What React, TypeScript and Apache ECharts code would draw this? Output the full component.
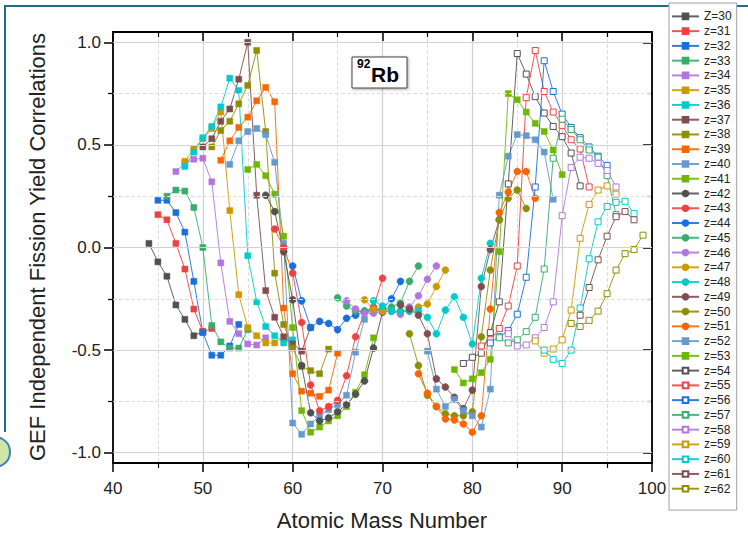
import React, { useEffect, useRef } from 'react';
import * as echarts from 'echarts';

const FONT = '"Liberation Sans", Arial, sans-serif';

// Origin "colorful" palette
const COLORS = ['#515151', '#F14040', '#1A6FDF', '#37AD6B', '#B177DE', '#CC9900', '#00CBCC', '#7D4E4E', '#8E8E00', '#FB6501', '#6699CC', '#6FB802'];

const xTicks = [40, 50, 60, 70, 80, 90, 100];
const yTicks = [-1.0, -0.5, 0.0, 0.5, 1.0];
const yMinorTicks = [-0.75, -0.25, 0.25, 0.75];

// [A, correlation]
const z30 = [[44, 0.02], [45, -0.07], [46, -0.14], [47, -0.28], [48, -0.35], [49, -0.43], [50, -0.41]];
const z31 = [[45, 0.16], [46, 0.135], [47, 0.02], [48, -0.105], [49, -0.3], [50, -0.41], [51, -0.395]];
const z32 = [[45, 0.23], [46, 0.23], [47, 0.17], [48, 0.075], [49, -0.165], [50, -0.415], [51, -0.525], [52, -0.525], [53, -0.48], [54, -0.375]];
const z33 = [[46, 0.25], [47, 0.28], [48, 0.275], [49, 0.195], [50, 0.0], [51, -0.38], [52, -0.46], [53, -0.49], [54, -0.49], [55, -0.4]];
const z34 = [[47, 0.37], [48, 0.41], [49, 0.43], [50, 0.435], [51, 0.32], [52, -0.075], [53, -0.36], [54, -0.42], [55, -0.47], [56, -0.475], [57, -0.44]];
const z35 = [[48, 0.42], [49, 0.48], [50, 0.53], [51, 0.58], [52, 0.66], [53, 0.18], [54, -0.23], [55, -0.39], [56, -0.43], [57, -0.465], [58, -0.465]];
const z36 = [[48, 0.395], [49, 0.465], [50, 0.535], [51, 0.59], [52, 0.685], [53, 0.825], [54, 0.765], [55, -0.04], [56, -0.265], [57, -0.385], [58, -0.43], [59, -0.465], [60, -0.45]];
const z37 = [[50, 0.49], [51, 0.53], [52, 0.615], [53, 0.675], [54, 0.82], [55, 1.0], [56, 0.255], [57, -0.21], [58, -0.34], [59, -0.435], [60, -0.47], [61, -0.505], [62, -0.39]];
const z38 = [[51, 0.49], [52, 0.57], [53, 0.615], [54, 0.7], [55, 0.79], [56, 0.96], [57, 0.565], [58, -0.125], [59, -0.375], [60, -0.49], [61, -0.58], [62, -0.6], [63, -0.615], [64, -0.495]];
const z39 = [[52, 0.425], [53, 0.52], [54, 0.585], [55, 0.635], [56, 0.715], [57, 0.78], [58, 0.71], [59, -0.295], [60, -0.615], [61, -0.7], [62, -0.71], [63, -0.725], [64, -0.695], [65, -0.515]];
const z40 = [[53, 0.405], [54, 0.52], [55, 0.565], [56, 0.58], [57, 0.55], [58, 0.415], [59, 0.02], [60, -0.855], [61, -0.91], [62, -0.86], [63, -0.82], [64, -0.79], [65, -0.765], [66, -0.72], [67, -0.51], [68, -0.35]];
const z41 = [[55, 0.38], [56, 0.405], [57, 0.35], [58, 0.26], [59, 0.055], [60, -0.39], [61, -0.795], [62, -0.9], [63, -0.875], [64, -0.845], [65, -0.82], [66, -0.775], [67, -0.705], [68, -0.62], [69, -0.44]];
const z42 = [[57, 0.255], [58, 0.175], [59, -0.02], [60, -0.255], [61, -0.575], [62, -0.805], [63, -0.845], [64, -0.83], [65, -0.8], [66, -0.765], [67, -0.715], [68, -0.65], [69, -0.49], [70, -0.315]];
const z43 = [[58, 0.09], [59, 0.0], [60, -0.125], [61, -0.365], [62, -0.67], [63, -0.795], [64, -0.775], [65, -0.745], [66, -0.625], [67, -0.435], [68, -0.315], [69, -0.29], [70, -0.15]];
const z44 = [[60, -0.09], [61, -0.26], [62, -0.39], [63, -0.36], [64, -0.37], [65, -0.4], [66, -0.345], [67, -0.33], [68, -0.31], [69, -0.3], [70, -0.3], [71, -0.25], [72, -0.165]];
const z45 = [[65, -0.245], [66, -0.285], [67, -0.31], [68, -0.31], [69, -0.31], [70, -0.305], [71, -0.29], [72, -0.27], [73, -0.165], [74, -0.09]];
const z46 = [[66, -0.26], [67, -0.3], [68, -0.32], [69, -0.32], [70, -0.31], [71, -0.31], [72, -0.325], [73, -0.29], [74, -0.235], [75, -0.155], [76, -0.09]];
const z47 = [[68, -0.255], [69, -0.3], [70, -0.31], [71, -0.31], [72, -0.31], [73, -0.31], [74, -0.29], [75, -0.275], [76, -0.19], [77, -0.11]];
const z48 = [[69, -0.26], [70, -0.285], [71, -0.31], [72, -0.31], [73, -0.31], [74, -0.31], [75, -0.34], [76, -0.42], [77, -0.305], [78, -0.24], [79, -0.34], [80, -0.47], [81, -0.15], [82, 0.02]];
const z49 = [[72, -0.28], [73, -0.3], [74, -0.33], [75, -0.42], [76, -0.64], [77, -0.68], [78, -0.73], [79, -0.785], [80, -0.695], [81, -0.19], [82, -0.01], [83, 0.135]];
const z50 = [[73, -0.42], [74, -0.575], [75, -0.72], [76, -0.775], [77, -0.81], [78, -0.82], [79, -0.82], [80, -0.8], [81, -0.435], [82, -0.11], [83, 0.135], [84, 0.24], [85, 0.28], [86, 0.19]];
const z51 = [[74, -0.615], [75, -0.71], [76, -0.775], [77, -0.835], [78, -0.84], [79, -0.86], [80, -0.9], [81, -0.82], [82, -0.3], [83, 0.17], [84, 0.27], [85, 0.37], [86, 0.37], [87, 0.24]];
const z52 = [[75, -0.505], [76, -0.69], [77, -0.775], [78, -0.74], [79, -0.795], [80, -0.82], [81, -0.875], [82, -0.69], [83, 0.255], [84, 0.445], [85, 0.55], [86, 0.545], [87, 0.525], [88, 0.465], [89, 0.235]];
const z53 = [[78, -0.595], [79, -0.66], [80, -0.64], [81, -0.61], [82, -0.545], [83, -0.02], [84, 0.75], [85, 0.72], [86, 0.66], [87, 0.605], [88, 0.565], [89, 0.475], [90, 0.355]];
const z54 = [[79, -0.565], [80, -0.535], [81, -0.515], [82, -0.415], [83, -0.265], [84, 0.31], [85, 0.945], [86, 0.845], [87, 0.735], [88, 0.655], [89, 0.59], [90, 0.54], [91, 0.46], [92, 0.3]];
const z55 = [[81, -0.48], [82, -0.45], [83, -0.395], [84, -0.285], [85, -0.09], [86, 0.73], [87, 0.96], [88, 0.76], [89, 0.66], [90, 0.595], [91, 0.525], [92, 0.48], [93, 0.295]];
const z56 = [[82, -0.465], [83, -0.435], [84, -0.405], [85, -0.325], [86, -0.145], [87, 0.295], [88, 0.91], [89, 0.76], [90, 0.65], [91, 0.585], [92, 0.535], [93, 0.49], [94, 0.445], [95, 0.4]];
const z57 = [[83, -0.44], [84, -0.465], [85, -0.45], [86, -0.41], [87, -0.34], [88, -0.105], [89, 0.435], [90, 0.625], [91, 0.575], [92, 0.525], [93, 0.475], [94, 0.44], [95, 0.35], [96, 0.16]];
const z58 = [[84, -0.42], [85, -0.48], [86, -0.475], [87, -0.44], [88, -0.39], [89, -0.265], [90, 0.155], [91, 0.39], [92, 0.44], [93, 0.435], [94, 0.41], [95, 0.375], [96, 0.295]];
const z59 = [[87, -0.455], [88, -0.515], [89, -0.495], [90, -0.45], [91, -0.305], [92, 0.045], [93, 0.21], [94, 0.28], [95, 0.3], [96, 0.26]];
const z60 = [[88, -0.5], [89, -0.545], [90, -0.565], [91, -0.5], [92, -0.295], [93, -0.055], [94, 0.125], [95, 0.2], [96, 0.22], [97, 0.225], [98, 0.165]];
const z61 = [[92, -0.33], [93, -0.195], [94, -0.06], [95, 0.055], [96, 0.15], [97, 0.175], [98, 0.135]];
const z62 = [[91, -0.37], [92, -0.385], [93, -0.355], [94, -0.31], [95, -0.225], [96, -0.11], [97, -0.03], [98, -0.01], [99, 0.06]];

const seriesData = [z30, z31, z32, z33, z34, z35, z36, z37, z38, z39, z40, z41, z42, z43, z44, z45, z46, z47, z48, z49, z50, z51, z52, z53, z54, z55, z56, z57, z58, z59, z60, z61, z62];
const seriesNames = seriesData.map((_, i) => (i === 0 ? 'Z=30' : 'z=' + (30 + i)));

function styleFor(z: number) {
  if (z <= 41) return { color: COLORS[z - 30], symbol: 'rect', open: false };
  if (z <= 51) return { color: COLORS[z - 42], symbol: 'circle', open: false };
  if (z <= 53) return { color: COLORS[z - 42], symbol: 'rect', open: false };
  return { color: COLORS[z - 54], symbol: 'rect', open: true };
}

export default function App() {
  const ref = useRef<HTMLDivElement>(null);
  useEffect(() => {
    const chart = echarts.init(ref.current!, null, { renderer: 'svg' });

    const dataSeries = seriesData.map((d, i) => {
      const z = 30 + i;
      const s = styleFor(z);
      return {
        name: seriesNames[i],
        type: 'line',
        data: d,
        z: 3,
        symbol: s.symbol,
        symbolSize: s.symbol === 'circle' ? 7 : 6,
        showAllSymbol: true,
        itemStyle: s.open
          ? { color: '#ffffff', borderColor: s.color, borderWidth: 1 }
          : { color: s.color, borderColor: s.color, borderWidth: 0.5 },
        lineStyle: { color: s.color, width: 1, opacity: 0.9 },
        emphasis: { disabled: true },
      };
    });

    const gridSeries = {
      name: 'grid',
      type: 'line',
      data: [],
      z: 1,
      silent: true,
      markLine: {
        silent: true,
        symbol: ['none', 'none'],
        label: { show: false },
        animation: false,
        data: [
          ...yTicks.map((v) => ({ yAxis: v, lineStyle: { color: '#d2d2d2', width: 1.2, type: 'solid' } })),
          ...yMinorTicks.map((v) => ({ yAxis: v, lineStyle: { color: '#dedede', width: 1, type: 'dashed' } })),
        ],
      },
    };

    const option: any = {
      animation: false,
      backgroundColor: '#ffffff',
      textStyle: { fontFamily: FONT },
      grid: { left: 113, right: 96, top: 32, bottom: 77, containLabel: false, outerBoundsMode: 'none' },
      legend: {
        orient: 'vertical',
        left: 669,
        top: 3,
        itemWidth: 27,
        itemHeight: 7,
        itemGap: 0,
        padding: [6, 5, 14, 2],
        backgroundColor: '#ffffff',
        borderColor: '#a0a0a0',
        borderWidth: 1,
        selectedMode: false,
        textStyle: { fontSize: 12, lineHeight: 14.76, color: '#222', fontFamily: FONT },
        data: seriesNames,
      },
      xAxis: [
        {
          type: 'value',
          min: xTicks[0],
          max: xTicks[xTicks.length - 1],
          interval: 10,
          position: 'bottom',
          axisLine: { show: true, onZero: false, lineStyle: { color: '#000', width: 1.8 } },
          axisTick: { show: true, inside: false, length: 9, lineStyle: { color: '#000', width: 1.5 } },
          minorTick: { show: true, splitNumber: 2, length: 5, lineStyle: { color: '#000', width: 1.2 } },
          axisLabel: { fontSize: 17, color: '#222', margin: 17, fontFamily: FONT },
          splitLine: { show: true, lineStyle: { color: '#cfcfcf', width: 1.2 } },
          minorSplitLine: { show: true, lineStyle: { color: '#dedede', width: 1, type: 'dashed' } },
        },
        {
          type: 'value',
          min: xTicks[0],
          max: xTicks[xTicks.length - 1],
          interval: 10,
          position: 'top',
          axisLine: { show: true, onZero: false, lineStyle: { color: '#000', width: 1.8 } },
          axisTick: { show: true, inside: true, length: 9, lineStyle: { color: '#000', width: 1.5 } },
          minorTick: { show: true, splitNumber: 2, length: 5, lineStyle: { color: '#000', width: 1.2 } },
          axisLabel: { show: false },
          splitLine: { show: false },
        },
      ],
      yAxis: [
        {
          type: 'value',
          min: -1.05,
          max: 1.05,
          splitNumber: 4,
          position: 'left',
          axisLine: { show: true, onZero: false, lineStyle: { color: '#000', width: 1.8 } },
          axisTick: { show: true, inside: false, length: 9, customValues: yTicks, lineStyle: { color: '#000', width: 1.5 } },
          axisLabel: {
            fontSize: 17, color: '#222', margin: 12, fontFamily: FONT,
            customValues: yTicks,
            showMinLabel: true, showMaxLabel: true,
            formatter: (v: number) => v.toFixed(1),
          },
          splitLine: { show: false },
        },
        {
          type: 'value',
          min: -1.05,
          max: 1.05,
          position: 'left',
          axisLine: { show: false },
          axisTick: { show: true, inside: false, length: 5, customValues: yMinorTicks, lineStyle: { color: '#000', width: 1.2 } },
          axisLabel: { show: false },
          splitLine: { show: false },
        },
        {
          type: 'value',
          min: -1.05,
          max: 1.05,
          position: 'right',
          axisLine: { show: true, onZero: false, lineStyle: { color: '#000', width: 1.8 } },
          axisTick: { show: true, inside: true, length: 9, customValues: yTicks, lineStyle: { color: '#000', width: 1.5 } },
          axisLabel: { show: false },
          splitLine: { show: false },
        },
        {
          type: 'value',
          min: -1.05,
          max: 1.05,
          position: 'right',
          axisLine: { show: false },
          axisTick: { show: true, inside: true, length: 5, customValues: yMinorTicks, lineStyle: { color: '#000', width: 1.2 } },
          axisLabel: { show: false },
          splitLine: { show: false },
        },
      ],
      series: [gridSeries, ...dataSeries],
      graphic: [
        { type: 'line', shape: { x1: 4, y1: 6, x2: 748, y2: 6 }, style: { stroke: '#236c8c', lineWidth: 2 }, silent: true },
        { type: 'line', shape: { x1: 5, y1: 6, x2: 5, y2: 432 }, style: { stroke: '#236c8c', lineWidth: 2 }, silent: true },
        { type: 'circle', shape: { cx: -5, cy: 452, r: 15 }, style: { fill: '#cfe6a6', stroke: '#3b82c4', lineWidth: 2 }, silent: true },
        {
          type: 'rect',
          shape: { x: 352, y: 57, width: 55, height: 31 },
          style: { fill: '#ffffff', stroke: '#444', lineWidth: 1, shadowBlur: 3, shadowOffsetX: 1, shadowOffsetY: 1, shadowColor: 'rgba(0,0,0,0.35)' },
          z: 10,
          silent: true,
        },
        {
          type: 'text', x: 357, y: 58, z: 11, silent: true,
          style: { text: '92', fontSize: 12, fontWeight: 'bold', fill: '#000', fontFamily: FONT },
        },
        {
          type: 'text', x: 371, y: 74, z: 11, silent: true,
          style: { text: 'Rb', fontSize: 21, fontWeight: 'bold', fill: '#000', fontFamily: FONT, verticalAlign: 'middle' },
        },
        {
          type: 'text', x: 382, y: 520, silent: true,
          style: { text: 'Atomic Mass Number', fontSize: 22, fill: '#222', fontFamily: FONT, align: 'center', verticalAlign: 'middle' },
        },
        {
          type: 'text', x: 37, y: 247, rotation: Math.PI / 2, silent: true,
          style: { text: 'GEF Independent Fission Yield Correlations', fontSize: 22, fill: '#222', fontFamily: FONT, align: 'center', verticalAlign: 'middle' },
        },
      ],
    };

    chart.setOption(option);
    return () => chart.dispose();
  }, []);

  return <div ref={ref} style={{ position: 'fixed', left: 0, top: 0, width: 748, height: 540, background: '#fff' }} />;
}
